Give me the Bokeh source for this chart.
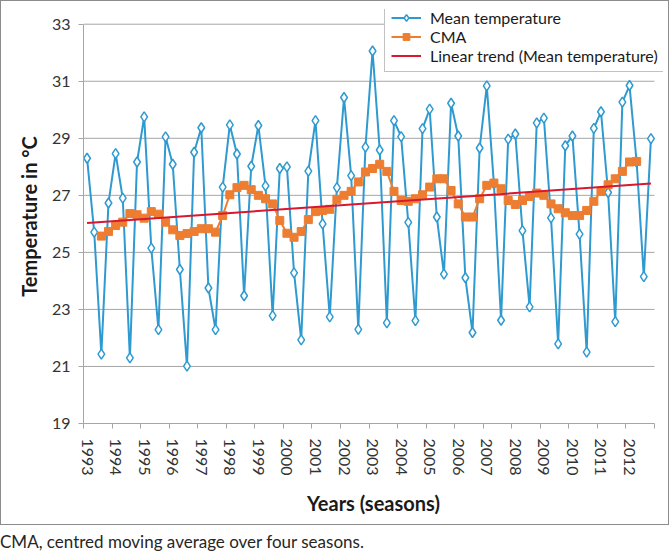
import numpy as np
from bokeh.plotting import figure
from bokeh.models import FixedTicker, Legend, LegendItem, Div, Range1d
from bokeh.layouts import column
from bokeh.embed import file_html
from bokeh.resources import INLINE

# ---------------- data ----------------
years = list(range(1993, 2013))
year_edges = list(range(1993, 2014))
y_ticks = [19, 21, 23, 25, 27, 29, 31, 33]

mean_temperature = [
    28.30, 25.71, 21.43, 26.73, 28.46, 26.90, 21.30, 28.17, 29.75, 25.15,
    22.29, 29.05, 28.09, 24.40, 21.01, 28.51, 29.37, 23.75, 22.29, 27.29,
    29.47, 28.45, 23.48, 28.02, 29.45, 27.33, 22.78, 27.94, 28.00, 24.28,
    21.93, 27.85, 29.62, 26.00, 22.74, 27.27, 30.43, 27.69, 22.30, 28.69,
    32.06, 28.59, 22.53, 29.62, 29.06, 26.05, 22.61, 29.34, 30.02, 26.24,
    24.24, 30.23, 29.08, 24.11, 22.19, 28.66, 30.84, 27.40, 22.62, 28.97,
    29.15, 25.76, 23.09, 29.54, 29.71, 26.21, 21.79, 28.74, 29.08, 25.64,
    21.50, 29.35, 29.93, 27.10, 22.57, 30.27, 30.85, 28.16, 24.15, 28.99,
]

# centred moving average, defined from the 3rd to the 78th season
cma_first_season = 2
cma = [
    25.57, 25.73, 25.94, 26.06, 26.36, 26.32, 26.20, 26.43, 26.34, 26.06,
    25.79, 25.59, 25.66, 25.73, 25.83, 25.83, 25.71, 26.29, 27.02, 27.27,
    27.35, 27.20, 27.00, 26.88, 26.70, 26.12, 25.67, 25.53, 25.73, 26.15,
    26.43, 26.47, 26.51, 26.86, 27.00, 27.14, 27.47, 27.82, 27.94, 28.09,
    27.84, 27.14, 26.82, 26.79, 26.88, 27.02, 27.29, 27.58, 27.58, 27.17,
    26.70, 26.24, 26.24, 26.88, 27.35, 27.43, 27.23, 26.82, 26.68, 26.82,
    26.96, 27.08, 27.00, 26.70, 26.53, 26.39, 26.29, 26.29, 26.47, 26.79,
    27.14, 27.37, 27.58, 27.84, 28.17, 28.19,
]

# ---------------- derived positions ----------------
x = [years[0] + (i + 0.5) / 4 for i in range(len(mean_temperature))]
x_cma = x[cma_first_season:cma_first_season + len(cma)]
coef = np.polyfit(x, mean_temperature, 1)
trend_x = [x[0], x[-1]]
trend_y = [float(np.polyval(coef, v)) for v in trend_x]

FONT = "Lato"
BLUE = "#2E9AD0"
ORANGE = "#ED7D31"
RED = "#D9172F"
GRID = "#A6A6A6"

# frame reaches a little past the axes so that the legend can overlap the top/right
x_end_pad = 0.315
y_top_pad = 0.516

p = figure(width=669, height=525, output_backend="svg", toolbar_location=None,
           x_range=Range1d(year_edges[0], year_edges[-1] + x_end_pad),
           y_range=Range1d(y_ticks[0], y_ticks[-1] + y_top_pad),
           min_border_left=82, min_border_right=7,
           min_border_top=8, min_border_bottom=103)
p.styles = {"border": "1px solid #8C8C8C"}
p.outline_line_color = None
p.background_fill_color = "white"
p.border_fill_color = "white"

# horizontal grid lines spanning only the category range
p.xgrid.visible = False
p.ygrid.visible = False
p.segment(x0=[year_edges[0]] * (len(y_ticks) - 1), x1=[year_edges[-1]] * (len(y_ticks) - 1),
          y0=y_ticks[1:], y1=y_ticks[1:], line_color=GRID, line_width=1)

# y axis
p.yaxis.bounds = (y_ticks[0], y_ticks[-1])
p.yaxis.ticker = FixedTicker(ticks=y_ticks)
p.yaxis.axis_line_color = GRID
p.yaxis.major_tick_line_color = GRID
p.yaxis.major_tick_out = 5
p.yaxis.major_tick_in = 0
p.yaxis.minor_tick_line_color = None
p.yaxis.major_label_text_font = FONT
p.yaxis.major_label_text_font_size = "16px"
p.yaxis.major_label_text_color = "#333333"
p.yaxis.major_label_standoff = 8
p.yaxis.axis_label = "Temperature in °C"
p.yaxis.axis_label_text_font = FONT
p.yaxis.axis_label_text_font_size = "20px"
p.yaxis.axis_label_text_font_style = "bold"
p.yaxis.axis_label_text_color = "#1A1A1A"
p.yaxis.axis_label_standoff = 8

# x axis
label_pos = [yr + 0.125 for yr in years]
p.xaxis.bounds = (year_edges[0], year_edges[-1])
p.xaxis.ticker = FixedTicker(ticks=label_pos, minor_ticks=year_edges)
p.xaxis.major_label_overrides = {lp: str(yr) for lp, yr in zip(label_pos, years)}
p.xaxis.major_tick_line_color = None
p.xaxis.major_tick_out = 5
p.xaxis.major_tick_in = 0
p.xaxis.minor_tick_line_color = GRID
p.xaxis.minor_tick_out = 5
p.xaxis.minor_tick_in = 0
p.xaxis.axis_line_color = GRID
p.xaxis.major_label_orientation = "vertical"
p.xaxis.major_label_text_font = FONT
p.xaxis.major_label_text_font_size = "16px"
p.xaxis.major_label_text_color = "#333333"
p.xaxis.major_label_standoff = 10
p.xaxis.axis_label = "Years (seasons)"
p.xaxis.axis_label_text_font = FONT
p.xaxis.axis_label_text_font_size = "20px"
p.xaxis.axis_label_text_font_style = "bold"
p.xaxis.axis_label_text_color = "#1A1A1A"
p.xaxis.axis_label_standoff = 12

# series
l_mean = p.line(x, mean_temperature, line_color=BLUE, line_width=2)
s_mean = p.scatter(x, mean_temperature, marker="diamond", size=10,
                   fill_color="white", line_color=BLUE, line_width=1.5)
l_cma = p.line(x_cma, cma, line_color=ORANGE, line_width=2)
s_cma = p.scatter(x_cma, cma, marker="square", size=8,
                  fill_color=ORANGE, line_color=ORANGE)
l_trend = p.line(trend_x, trend_y, line_color=RED, line_width=2)

legend = Legend(items=[
    LegendItem(label="Mean temperature", renderers=[l_mean, s_mean]),
    LegendItem(label="CMA", renderers=[l_cma, s_cma]),
    LegendItem(label="Linear trend (Mean temperature)", renderers=[l_trend]),
], location=(301, 351))
legend.label_text_font = FONT
legend.label_text_font_size = "16px"
legend.label_text_color = "#1A1A1A"
legend.label_height = 17
legend.glyph_height = 17
legend.glyph_width = 30
legend.label_standoff = 9
legend.spacing = 0
legend.padding = 6
legend.margin = 0
legend.border_line_color = "#868686"
legend.border_line_width = 1
legend.background_fill_color = "white"
legend.background_fill_alpha = 1.0
p.add_layout(legend)

caption = Div(text="CMA, centred moving average over four seasons.",
              styles={"font-family": FONT, "font-size": "17px", "color": "#262626"},
              margin=(5, 0, 0, 0))

layout = column(p, caption)
open("out.html", "w").write(file_html(layout, INLINE))
